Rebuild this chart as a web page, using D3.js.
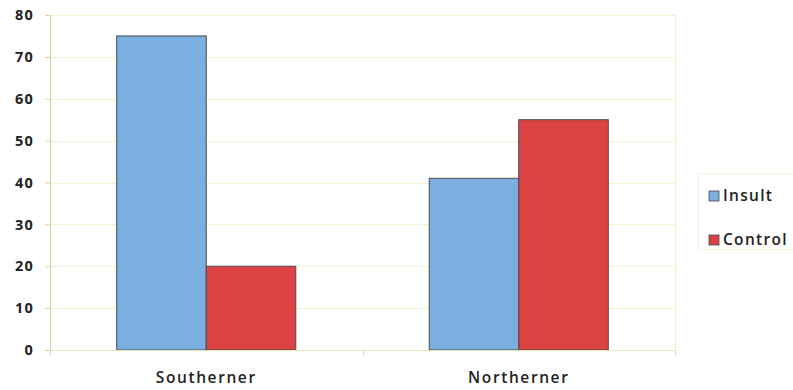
<!DOCTYPE html>
<html>
<head>
<meta charset="utf-8">
<script src="https://cdn.jsdelivr.net/npm/d3@7"></script>
<style>
  html, body { margin: 0; padding: 0; background: #fff; }
  svg { display: block; }
  text { font-family: "Open Sans", "Liberation Sans", sans-serif; fill: #222; }
</style>
</head>
<body>
<svg id="chart" width="793" height="390"></svg>
<script>
// Chart data
const categories = ["Southerner", "Northerner"];
const seriesNames = ["Insult", "Control"];
const insultValues = [75, 41];
const controlValues = [20, 55];
const yTicks = [0, 10, 20, 30, 40, 50, 60, 70, 80];

const colors = { Insult: "#7BAFDF", Control: "#DB4343" };
const values = { Insult: insultValues, Control: controlValues };

const svg = d3.select("#chart");
const margin = { left: 50, right: 118, top: 15, bottom: 40 };
const W = 793, H = 390;
const plotW = W - margin.left - margin.right;
const plotH = H - margin.top - margin.bottom;

const g = svg.append("g").attr("transform", `translate(${margin.left},${margin.top})`);

const x = d3.scaleBand().domain(categories).range([0, plotW]).paddingInner(0).paddingOuter(0);
const x1 = d3.scaleBand().domain(seriesNames).range([0, x.bandwidth() * 0.573]);
const y = d3.scaleLinear().domain([0, 80]).range([plotH, 0]);

// Gridlines
g.selectAll(".grid").data(yTicks.slice(1)).join("line")
  .attr("x1", 0).attr("x2", plotW)
  .attr("y1", d => Math.round(y(d)) + 0.5).attr("y2", d => Math.round(y(d)) + 0.5)
  .attr("stroke", "#F4F2D8").attr("stroke-width", 1);

// Plot frame (right edge)
g.append("line").attr("x1", plotW + 0.5).attr("x2", plotW + 0.5).attr("y1", 0).attr("y2", plotH)
  .attr("stroke", "#F1EFC8");

// Bars
const offset = (x.bandwidth() - x.bandwidth() * 0.573) / 2;
const groups = g.selectAll(".cat").data(categories).join("g")
  .attr("transform", d => `translate(${x(d) + offset},0)`);

groups.selectAll("rect").data((c, i) => seriesNames.map(s => ({ s, v: values[s][i] }))).join("rect")
  .attr("x", d => x1(d.s))
  .attr("y", d => y(d.v))
  .attr("width", x1.bandwidth())
  .attr("height", d => plotH - y(d.v))
  .attr("fill", d => colors[d.s])
  .attr("stroke", "#4a4a4a")
  .attr("stroke-width", 1);

// Y axis
const yAxis = g.append("g").call(d3.axisLeft(y).tickValues(yTicks).tickSize(5).tickPadding(11));
yAxis.select(".domain").attr("stroke", "#D6D4A6");
yAxis.selectAll(".tick line").attr("stroke", "#D6D4A6");
yAxis.selectAll("text")
  .attr("font-size", 14.5).attr("font-weight", 700).attr("fill", "#2a2a2a")
  .style("letter-spacing", "1.2px");

// X axis
const xAxis = g.append("g").attr("transform", `translate(0,${plotH})`)
  .call(d3.axisBottom(x).tickSize(0).tickPadding(22));
xAxis.select(".domain").attr("stroke", "#E8E6B8");
xAxis.selectAll("text")
  .attr("font-size", 15.5).attr("font-weight", 600).attr("fill", "#222")
  .style("letter-spacing", "1.6px");
// Category boundary ticks
g.selectAll(".xtick").data([0, plotW / 2, plotW]).join("line")
  .attr("x1", d => Math.round(d) + 0.5).attr("x2", d => Math.round(d) + 0.5)
  .attr("y1", plotH).attr("y2", plotH + 6)
  .attr("stroke", "#D8D8D8");

// Legend
const legend = svg.append("g").attr("transform", "translate(698,173)");
legend.append("rect").attr("x", 0.5).attr("y", 0.5).attr("width", 110).attr("height", 76)
  .attr("fill", "#fff").attr("stroke", "#F4F2D8");
seriesNames.forEach((s, i) => {
  const row = legend.append("g").attr("transform", `translate(11,${28 + i * 44})`);
  row.append("rect").attr("x", 0).attr("y", -10).attr("width", 10).attr("height", 10)
    .attr("fill", colors[s]).attr("stroke", "#4a4a4a").attr("stroke-width", 0.8);
  row.append("text").attr("x", 14).attr("y", 0).attr("font-size", 15.5).attr("font-weight", 600)
    .style("letter-spacing", "1.3px").text(s);
});
</script>
</body>
</html>
